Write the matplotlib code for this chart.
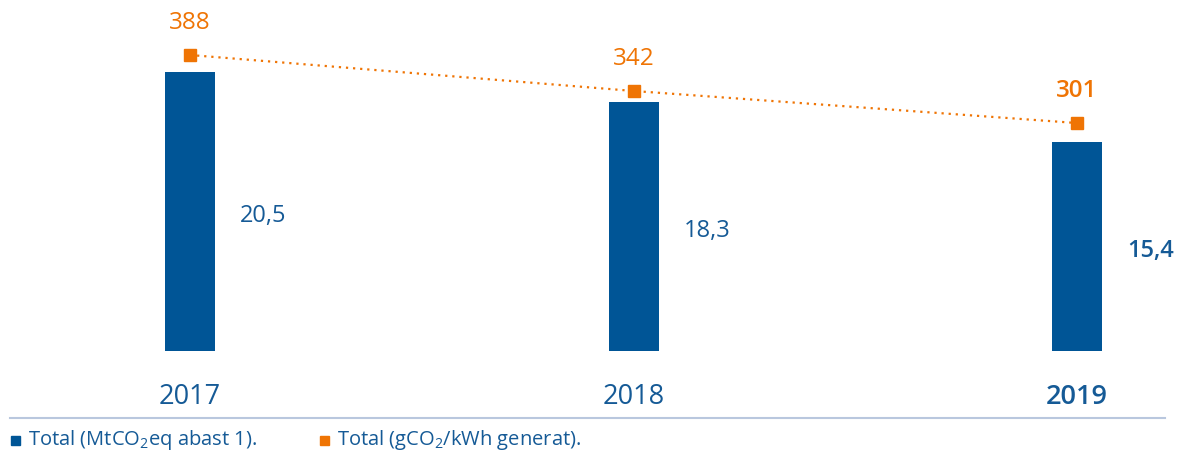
import matplotlib
matplotlib.use("Agg")
import matplotlib.pyplot as plt
from matplotlib.patches import Rectangle
from matplotlib.lines import Line2D

years = ["2017", "2018", "2019"]
emissions_mt = [20.5, 18.3, 15.4]
intensity_g = [388, 342, 301]
emission_labels = ["20,5", "18,3", "15,4"]
intensity_labels = ["388", "342", "301"]
legend_labels = ["Total (MtCO$_2$eq abast 1).", "Total (gCO$_2$/kWh generat)."]

BLUE = "#005596"
TEXT_BLUE = "#155a96"
ORANGE = "#ef7404"
FONT = "Open Sans"

plt.rcParams["font.family"] = [FONT, "DejaVu Sans"]
plt.rcParams["mathtext.fontset"] = "custom"
plt.rcParams["mathtext.rm"] = FONT
plt.rcParams["mathtext.it"] = FONT
plt.rcParams["mathtext.bf"] = FONT

W, H = 1181, 455
fig = plt.figure(figsize=(W / 100, H / 100), dpi=100)
ax = fig.add_axes([0, 0, 1, 1])
ax.set_axis_off()

# x scale: index 0 -> 190 px, index 2 -> 1077 px
pxu = (1077 - 190) / 2
ax.set_xlim(-190 / pxu, (W - 190) / pxu)
# y scale: 0 -> 351 px from top, 13.6 px per unit
ypx = 13.6
ax.set_ylim(-(H - 351) / ypx, 351 / ypx)

xs = list(range(len(years)))
ax.bar(xs, emissions_mt, width=50 / pxu, color=BLUE, zorder=2)

for i, (x, v, lab) in enumerate(zip(xs, emissions_mt, emission_labels)):
    bold = i == len(xs) - 1
    ax.annotate(lab, (x, v / 2), xytext=(50 / 100 * 72, -1), textcoords="offset points",
                ha="left", va="center_baseline", fontsize=17, color=TEXT_BLUE,
                fontweight="semibold" if bold else "normal")
    ax.text(x, -(394 - 351) / ypx, years[i], ha="center", va="center_baseline", fontsize=19.5,
            color=TEXT_BLUE, fontweight="semibold" if bold else "normal")

# secondary axis for intensity line
ax2 = ax.twinx()
ax2.set_axis_off()
gpx = 0.782
ax2.set_ylim(388 - (H - 55) / gpx, 388 + 55 / gpx)
ax2.set_xlim(ax.get_xlim())
ax2.plot(xs, intensity_g, color=ORANGE, linestyle=(0, (1, 2.2)), linewidth=1.6,
         marker="s", markersize=8, zorder=3)
for i, (x, v, lab) in enumerate(zip(xs, intensity_g, intensity_labels)):
    bold = i == len(xs) - 1
    ax2.annotate(lab, (x, v), xytext=(0, 25), textcoords="offset points",
                 ha="center", va="center_baseline", fontsize=17.5, color=ORANGE,
                 fontweight="semibold" if bold else "normal")

# separator line
fig.add_artist(Line2D([10 / W, 1165 / W], [1 - 418 / H, 1 - 418 / H],
                      color="#b9c7de", linewidth=1.5))

# legend
leg_y = 1 - 440 / H
sq = 9
for x0, col, lab in [(11, BLUE, legend_labels[0]), (320, ORANGE, legend_labels[1])]:
    fig.add_artist(Rectangle((x0 / W, leg_y - (sq / 2) / H), sq / W, sq / H,
                             transform=fig.transFigure, color=col))
    fig.text((x0 + 17) / W, leg_y, lab, ha="left", va="center", fontsize=14.5,
             color=TEXT_BLUE)

fig.savefig("out.png", dpi=100)
